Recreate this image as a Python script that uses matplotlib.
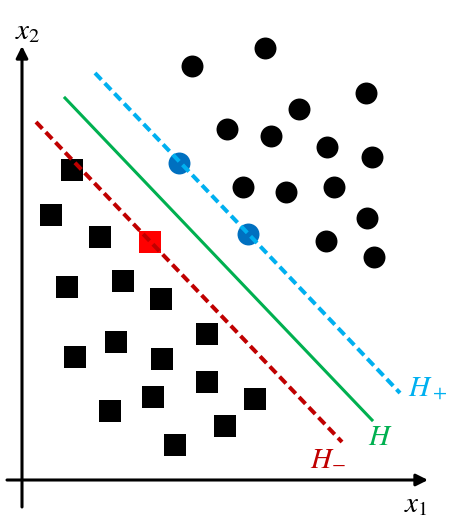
import matplotlib.pyplot as plt

plt.rcParams['mathtext.fontset'] = 'stix'

# class +1 points (circles), pixel-like coordinates (x right, y down)
circ_x = [192, 265, 299, 366, 227, 271, 327, 372, 243, 286, 334, 367, 326, 374]
circ_y = [66, 48, 109, 93, 129, 136, 147, 157, 187, 192, 187, 218, 241, 257]
# support vectors on H+
sv_pos_x = [179, 248]
sv_pos_y = [163, 234]

# class -1 points (squares)
sq_x = [72, 51, 100, 67, 123, 161, 207, 116, 75, 162, 207, 153, 255, 110, 225, 175]
sq_y = [170, 215, 237, 287, 281, 299, 334, 342, 357, 359, 382, 397, 399, 411, 426, 445]
# support vector on H-
sv_neg_x = [150]
sv_neg_y = [242]

# hyperplanes: start/end points
hp_x = {'H+': [95, 400], 'H': [65, 372], 'H-': [36, 342]}
hp_y = {'H+': [73, 393], 'H': [98, 420], 'H-': [122, 442]}

W, H = 449, 524
fig = plt.figure(figsize=(W / 100, H / 100), dpi=100)
ax = fig.add_axes([0, 0, 1, 1])
ax.set_xlim(0, W)
ax.set_ylim(H, 0)
ax.axis('off')

ms = 15.8
ax.plot(circ_x, circ_y, 'o', color='black', ms=ms, mew=0)
ax.plot(sv_pos_x, sv_pos_y, 'o', color='#0070C0', ms=ms, mew=0)
ax.plot(sq_x, sq_y, 's', color='black', ms=ms, mew=0)
ax.plot(sv_neg_x, sv_neg_y, 's', color='#FF0000', ms=ms, mew=0)

ax.plot(hp_x['H+'], hp_y['H+'], color='#00B0F0', lw=2.9, ls=(0, (2.3, 1.2)))
ax.plot(hp_x['H'], hp_y['H'], color='#00B050', lw=2.2)
ax.plot(hp_x['H-'], hp_y['H-'], color='#C00000', lw=2.9, ls=(0, (2.3, 1.2)))

# axes with arrows
arrow = dict(arrowstyle='-|>,head_length=0.7,head_width=0.35', color='black', lw=2.2,
             shrinkA=0, shrinkB=0)
ax.annotate('', xy=(22, 46), xytext=(22, 507), arrowprops=arrow)
ax.annotate('', xy=(428, 480), xytext=(7, 480), arrowprops=arrow)

fs = 21
ax.text(28, 31, '$x_2$', fontsize=fs, ha='center', va='center')
ax.text(416, 504, '$x_1$', fontsize=fs, ha='center', va='center')
ax.text(428, 387, '$H_+$', fontsize=fs, color='#00B0F0', ha='center', va='center')
ax.text(380, 437, '$H$', fontsize=fs, color='#00B050', ha='center', va='center')
ax.text(328, 457, '$H_{-}$', fontsize=fs, color='#C00000', ha='center', va='center')

fig.savefig('out.png', dpi=100)
